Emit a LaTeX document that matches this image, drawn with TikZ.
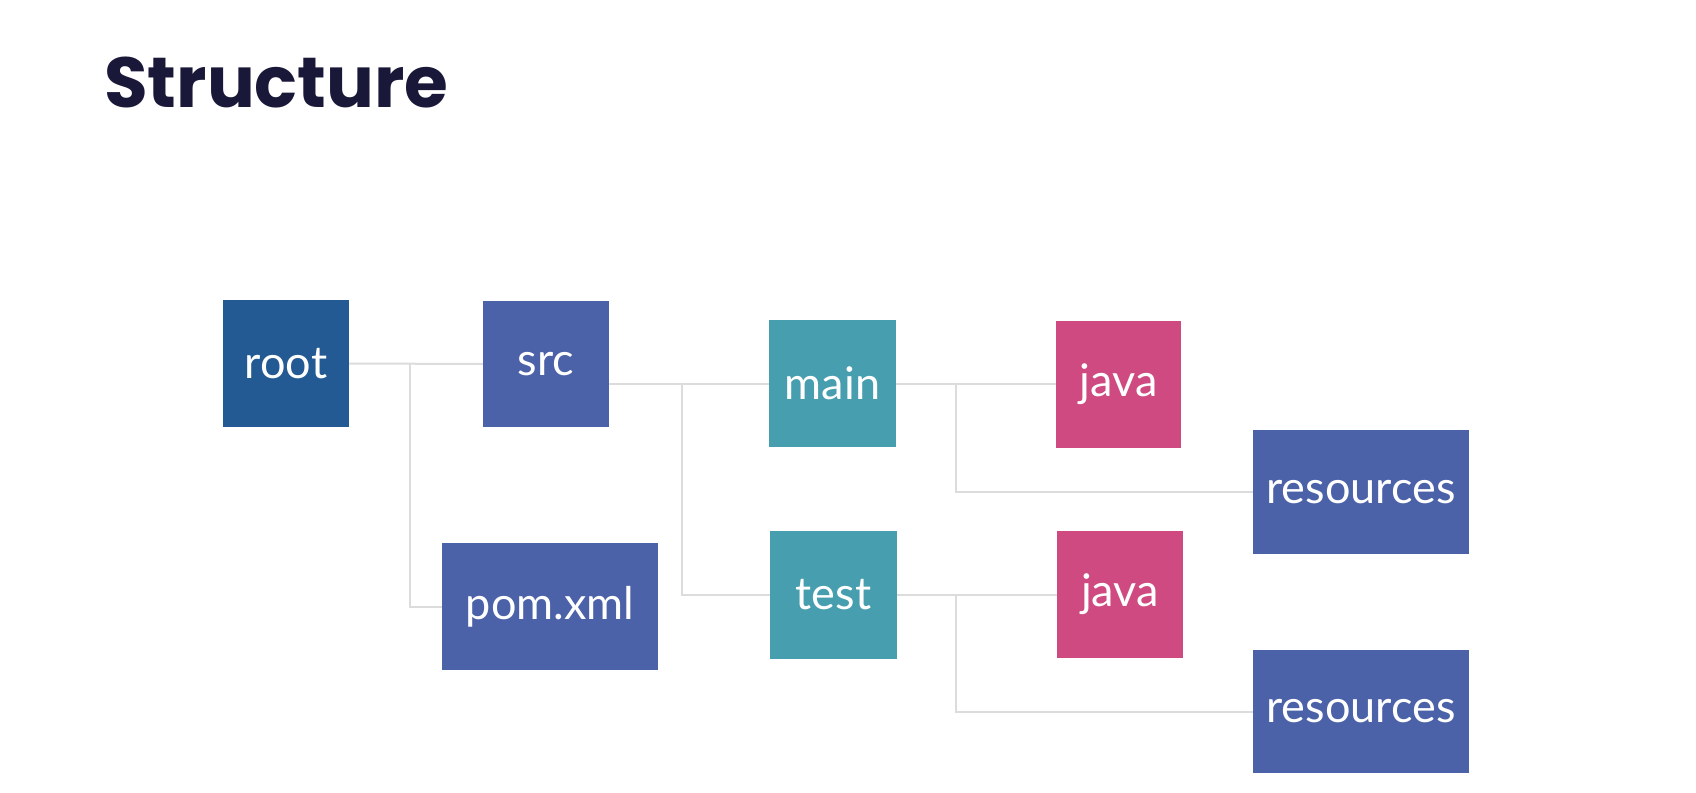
\documentclass[tikz,border=0pt]{standalone}
\usepackage{fontspec}
\setmainfont{Lato}
\newfontfamily\titlefont{Poppins}
\definecolor{titlec}{RGB}{26,24,56}
\definecolor{rootc}{RGB}{36,90,147}
\definecolor{bluec}{RGB}{76,98,168}
\definecolor{tealc}{RGB}{70,158,175}
\definecolor{pinkc}{RGB}{206,74,128}
\definecolor{linec}{RGB}{220,220,220}
\begin{document}
\begin{tikzpicture}[x=1pt,y=-1pt,
  box/.style={draw=none,text=white,inner sep=0pt,font=\fontsize{45}{50}\selectfont},
  conn/.style={draw=linec,line width=2pt}]
\useasboundingbox[fill=white] (0,0) rectangle (1696,792);
\node[anchor=base west,text=titlec,inner sep=0pt,font=\titlefont\fontsize{71}{75}\selectfont\bfseries] (title) at (104,107) {Structure};
\node[box,fill=rootc,minimum width=126pt,minimum height=127pt] (root) at (286,363.5) {root};
\node[box,fill=bluec,minimum width=126pt,minimum height=126pt] (src) at (546,364) {src};
\node[box,fill=bluec,minimum width=216pt,minimum height=127pt] (pom) at (550,606.5) {pom.xml};
\node[box,fill=tealc,minimum width=127pt,minimum height=127pt] (main) at (832.5,383.5) {main};
\node[box,fill=tealc,minimum width=127pt,minimum height=128pt] (test) at (833.5,595) {test};
\node[box,fill=pinkc,minimum width=125pt,minimum height=127pt] (java1) at (1118.5,384) {java};
\node[box,fill=pinkc,minimum width=126pt,minimum height=127pt] (java2) at (1120,594) {java};
\node[box,fill=bluec,minimum width=216pt,minimum height=124pt] (res1) at (1361,492) {resources};
\node[box,fill=bluec,minimum width=216pt,minimum height=123pt] (res2) at (1361,711.5) {resources};
\coordinate (j1) at (410,363.5);
\coordinate (j2) at (682,383.5);
\coordinate (j3) at (956,383.5);
\coordinate (j4) at (956,595);
\draw[conn] (root.east) -- (src.west);
\draw[conn] (j1) |- (pom.west);
\draw[conn] (src.east |- main.west) -- (main.west);
\draw[conn] (j2) |- (test.west);
\draw[conn] (main.east) -- (main.east -| java1.west);
\draw[conn] (j3) |- (res1.west);
\draw[conn] (test.east) -- (test.east -| java2.west);
\draw[conn] (j4) |- (res2.west);
\end{tikzpicture}
\end{document}
